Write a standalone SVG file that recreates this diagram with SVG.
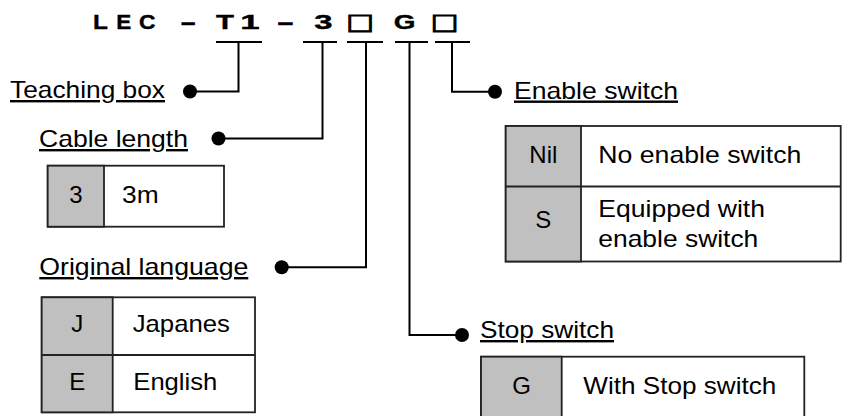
<svg xmlns="http://www.w3.org/2000/svg" width="842" height="416" viewBox="0 0 842 416">
<style>
.t{font-family:"Liberation Sans",Arial,sans-serif;font-size:24px;fill:#000}
.lbl{text-decoration:underline}
.mid{text-anchor:middle}
.title{font-family:"Liberation Sans",Arial,"DejaVu Sans",sans-serif;font-size:21px;font-weight:bold;fill:#000;stroke:#000;stroke-width:0.4;text-anchor:middle}
.sq{font-family:"DejaVu Sans",sans-serif;font-size:22px;font-weight:bold;fill:#000;stroke:#000;stroke-width:1;text-anchor:middle}
.ln{fill:none;stroke:#000;stroke-width:2}
.box{fill:#fff;stroke:#222;stroke-width:1.8}
.code{fill:#c0c0c0;stroke:#222;stroke-width:1.8}
.dot{fill:#000}
</style>
<rect width="842" height="416" fill="#fff"/>
<g id="title">
<text class="title" transform="translate(100.5,28.5) scale(1.16,1)">L</text>
<text class="title" transform="translate(123.8,28.5) scale(1.07,1)">E</text>
<text class="title" transform="translate(147.2,28.5) scale(1.09,1)">C</text>
<text class="title" transform="translate(188.3,28.5) scale(2.35,1)">-</text>
<text class="title" transform="translate(225,28.5) scale(1.4,1)">T</text>
<text class="title" transform="translate(250,28.5) scale(1.66,1)">1</text>
<text class="title" transform="translate(285.5,28.5) scale(2.55,1)">-</text>
<text class="title" transform="translate(323.3,28.5) scale(1.56,1)">3</text>
<text class="sq" transform="translate(360,28.5) scale(1.32,1)">□</text>
<text class="title" transform="translate(404.5,28.5) scale(1.33,1)">G</text>
<text class="sq" transform="translate(444.5,28.5) scale(1.32,1)">□</text>
</g>
<g id="connectors">
<line class="ln" x1="216" y1="42" x2="262" y2="42"/>
<polyline class="ln" points="238.5,42 238.5,91.5 190,91.5"/>
<circle class="dot" cx="190" cy="91.5" r="7"/>
<line class="ln" x1="303" y1="42" x2="337" y2="42"/>
<polyline class="ln" points="322.5,42 322.5,138.5 218.5,138.5"/>
<circle class="dot" cx="218.5" cy="138.5" r="7"/>
<line class="ln" x1="347" y1="42" x2="383" y2="42"/>
<polyline class="ln" points="366,42 366,267.3 281.7,267.3"/>
<circle class="dot" cx="281.7" cy="267.3" r="7"/>
<line class="ln" x1="395" y1="42" x2="428" y2="42"/>
<polyline class="ln" points="409.5,42 409.5,335 462,335"/>
<circle class="dot" cx="462" cy="335" r="7"/>
<line class="ln" x1="435" y1="42" x2="470" y2="42"/>
<polyline class="ln" points="452,42 452,91.7 495,91.7"/>
<circle class="dot" cx="495" cy="91.7" r="7"/>
</g>
<g id="teaching-box">
<text class="t lbl" x="10" y="98" textLength="155" lengthAdjust="spacingAndGlyphs">Teaching box</text>
</g>
<g id="cable-length">
<text class="t lbl" x="39" y="147" textLength="149" lengthAdjust="spacingAndGlyphs">Cable length</text>
<rect class="box" x="47.7" y="165.7" width="176.3" height="61"/>
<rect class="code" x="47.7" y="165.7" width="56.3" height="61"/>
<text class="t mid" x="76" y="202.5">3</text>
<text class="t" x="122" y="202.5" textLength="36.6" lengthAdjust="spacingAndGlyphs">3m</text>
</g>
<g id="original-language">
<text class="t lbl" x="39.3" y="275" textLength="209" lengthAdjust="spacingAndGlyphs">Original language</text>
<rect class="box" x="41.7" y="297.3" width="213.3" height="115"/>
<rect class="code" x="41.7" y="297.3" width="71" height="115"/>
<line class="box" x1="41.7" y1="355" x2="255" y2="355"/>
<text class="t mid" x="77.3" y="331.7">J</text>
<text class="t" x="132.7" y="331.7" textLength="97.3" lengthAdjust="spacingAndGlyphs">Japanes</text>
<text class="t mid" x="77.3" y="390">E</text>
<text class="t" x="133.3" y="390" textLength="84" lengthAdjust="spacingAndGlyphs">English</text>
</g>
<g id="enable-switch">
<text class="t lbl" x="514" y="98.5" textLength="164" lengthAdjust="spacingAndGlyphs">Enable switch</text>
<rect class="box" x="505.7" y="126" width="335" height="135.5"/>
<rect class="code" x="505.7" y="126" width="75.3" height="135.5"/>
<line class="box" x1="505.7" y1="186.5" x2="840.7" y2="186.5"/>
<text class="t mid" x="543.3" y="163">Nil</text>
<text class="t" x="598.3" y="163" textLength="203" lengthAdjust="spacingAndGlyphs">No enable switch</text>
<text class="t mid" x="543.3" y="228">S</text>
<text class="t" x="598.3" y="216.7" textLength="166.7" lengthAdjust="spacingAndGlyphs">Equipped with</text>
<text class="t" x="598.3" y="246.7" textLength="160" lengthAdjust="spacingAndGlyphs">enable switch</text>
</g>
<g id="stop-switch">
<text class="t lbl" x="480" y="338" textLength="134" lengthAdjust="spacingAndGlyphs">Stop switch</text>
<rect class="box" x="481" y="356.7" width="323.3" height="75"/>
<rect class="code" x="481" y="356.7" width="80.7" height="75"/>
<text class="t mid" x="521.7" y="393.5">G</text>
<text class="t" x="583.3" y="393.5" textLength="193" lengthAdjust="spacingAndGlyphs">With Stop switch</text>
</g>
</svg>
